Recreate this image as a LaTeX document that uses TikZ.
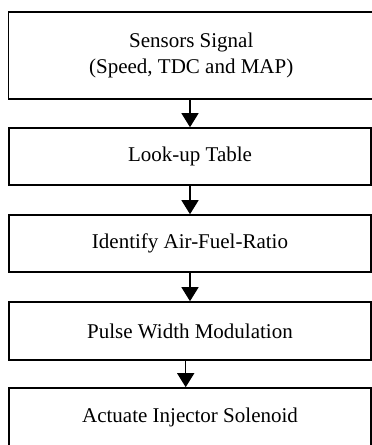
\documentclass[tikz,border=0pt]{standalone}
\usepackage{fontspec}
\setmainfont{Liberation Serif}
\usetikzlibrary{arrows.meta}

\begin{document}
\begin{tikzpicture}[x=1pt,y=-1pt,
  box/.style={draw,line width=1.6pt,inner sep=0pt,minimum width=362.5pt,minimum height=57pt,align=center,font=\fontsize{21}{26}\selectfont},
  flow/.style={-{Triangle[length=14pt,width=17pt]},line width=1.3pt}]
\useasboundingbox (0,0) rectangle (372,445);
\node[box,minimum width=365.5pt,minimum height=87pt] (sensor) at (191.25,55.5) {Sensors Signal\\(Speed, TDC and MAP)};
\node[box] (lookup) at (190,156.5) {Look-up Table};
\node[box] (afr) at (190,243.5) {Identify Air-Fuel-Ratio};
\node[box,minimum height=58pt] (pwm) at (190,331) {Pulse Width Modulation};
\node[box,minimum height=58pt] (inj) at (190,417) {Actuate Injector Solenoid};
\draw[flow] (lookup.north |- sensor.south) -- (lookup.north);
\draw[flow] (lookup.south) -- (afr.north);
\draw[flow] (afr.south) -- (pwm.north);
\draw[flow] ([xshift=-4.3pt]pwm.south) -- ([xshift=-4.3pt]inj.north);
\end{tikzpicture}
\end{document}
